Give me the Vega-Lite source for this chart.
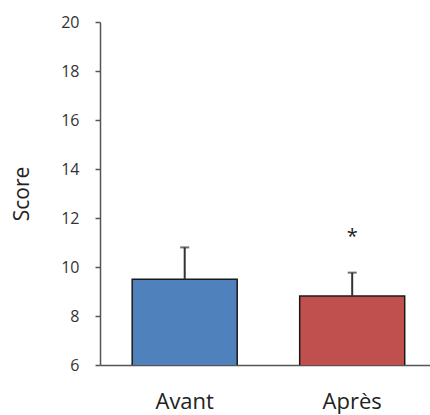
{
  "$schema": "https://vega.github.io/schema/vega-lite/v6.json",
  "width": 330,
  "height": 343,
  "autosize": "none",
  "padding": {"left": 100, "top": 22, "right": 0, "bottom": 50},
  "background": "white",
  "config": {"view": {"stroke": null}, "font": "Open Sans"},
  "data": {
    "values": [
      {"phase": "Avant", "score": 9.5, "upper": 10.8, "sig": ""},
      {"phase": "Après", "score": 8.82, "upper": 9.77, "sig": "*"}
    ]
  },
  "encoding": {
    "x": {
      "field": "phase",
      "type": "nominal",
      "sort": ["Avant", "Après"],
      "scale": {"paddingInner": 0.373, "paddingOuter": 0.1716, "align": 0.56},
      "axis": {
        "title": null,
        "labelAngle": 0,
        "labelFontSize": 22,
        "labelColor": "#222",
        "labelPadding": 26,
        "ticks": false,
        "domainColor": "#555",
        "domainWidth": 1.5
      }
    }
  },
  "layer": [
    {
      "mark": {"type": "bar", "stroke": "#1a1a1a", "strokeWidth": 1.5, "clip": true},
      "encoding": {
        "y": {
          "field": "score",
          "type": "quantitative",
          "scale": {"domain": [6, 20], "nice": false, "zero": false},
          "axis": {
            "title": "Score",
            "titleFontSize": 21,
            "titleFontWeight": "normal",
            "titleColor": "#222",
            "titlePadding": 28,
            "values": [6, 8, 10, 12, 14, 16, 18, 20],
            "labelFontSize": 16,
            "labelColor": "#333",
            "labelPadding": 16,
            "tickSize": 5,
            "tickColor": "#555",
            "tickWidth": 1.5,
            "domainColor": "#555",
            "domainWidth": 1.5,
            "grid": false
          }
        },
        "color": {
          "field": "phase",
          "type": "nominal",
          "scale": {"domain": ["Avant", "Après"], "range": ["#4F81BD", "#C0504D"]},
          "legend": null
        }
      }
    },
    {
      "mark": {"type": "rule", "color": "#333", "strokeWidth": 2},
      "encoding": {
        "y": {"field": "score", "type": "quantitative"},
        "y2": {"field": "upper"}
      }
    },
    {
      "mark": {"type": "tick", "color": "#333", "thickness": 2, "size": 9},
      "encoding": {
        "y": {"field": "upper", "type": "quantitative"}
      }
    },
    {
      "mark": {"type": "text", "fontSize": 20, "color": "#222", "baseline": "alphabetic", "dy": -30},
      "encoding": {
        "y": {"field": "upper", "type": "quantitative"},
        "text": {"field": "sig"}
      }
    }
  ]
}
